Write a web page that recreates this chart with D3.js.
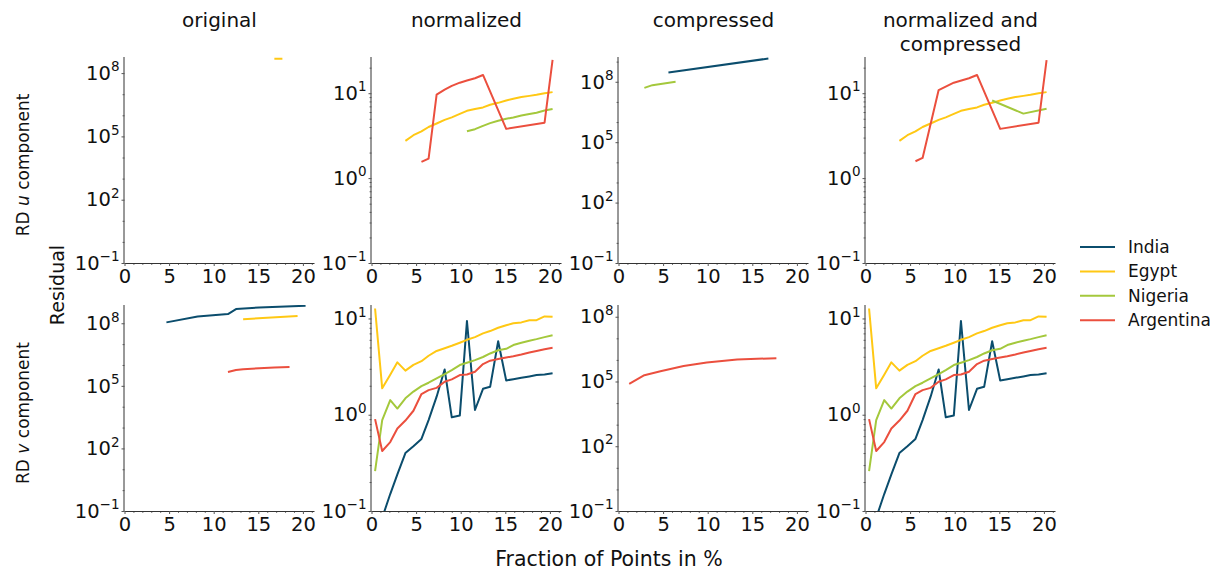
<!DOCTYPE html>
<html>
<head>
<meta charset="utf-8">
<script src="https://cdn.jsdelivr.net/npm/d3@7"></script>
<style>
  html, body { margin: 0; padding: 0; background: #fff; }
  svg { display: block; font-family: "DejaVu Sans", sans-serif; }
</style>
</head>
<body>
<svg id="chart" width="1210" height="571"></svg>
<script>
const N = null;
const countries = ["India", "Egypt", "Nigeria", "Argentina"];
const countryColors = ["#0b4d6d", "#ffc814", "#a4c83c", "#eb4f3e"];
const columnTitles = [["original"], ["normalized"], ["compressed"], ["normalized and", "compressed"]];
const xTicks = [0, 5, 10, 15, 20];
const wideTicks = [0.1, 1e2, 1e5, 1e8];
const narrowTicks = [0.1, 1, 10];

// fraction of points (%) at which each residual was evaluated
const fractionGrid = [0.4, 1.2, 2.1, 2.9, 3.8, 4.7, 5.6, 6.4, 7.3, 8.2, 9.0, 9.9,
                      10.7, 11.6, 12.5, 13.3, 14.2, 15.1, 15.9, 16.8, 17.7, 18.5, 19.4, 20.3];

// RD u component
const uOriginalEgypt = [N,N,N,N,N,N,N,N,N,N,N,N,N,N,N,N,N,N,N,4.8e8,4.8e8,N,N,N];
const uNormalizedEgypt = [N,N,N,N,2.75,3.2,3.55,4.0,4.4,4.85,5.2,5.7,6.2,6.5,6.8,7.3,7.7,8.2,8.6,9.0,9.3,9.6,10.0,10.3];
const uNormalizedNigeria = [N,N,N,N,N,N,N,N,N,N,N,N,3.57,3.77,4.13,4.44,4.73,5.0,5.18,5.46,5.7,5.9,6.25,6.5];
const uNormalizedArgentina = [N,N,N,N,N,N,1.55,1.7,9.6,11.0,12.2,13.3,14.1,15.0,16.4,N,N,3.8,N,N,N,N,4.5,24.7];
const uCompressedIndia = [N,N,N,N,N,N,2.9e8,N,N,N,N,N,N,N,N,N,N,N,N,1.43e9,N,N,N,N];
const uCompressedNigeria = [N,N,N,5.0e7,6.8e7,N,N,1.0e8,N,N,N,N,N,N,N,N,N,N,N,N,N,N,N,N];
const uNormCompEgypt = [N,N,N,N,2.75,3.2,3.55,4.0,4.4,4.85,5.2,5.7,6.2,6.5,6.8,7.3,7.7,8.2,8.6,9.0,9.3,9.6,10.0,10.3];
const uNormCompNigeria = [N,N,N,N,N,N,N,N,N,N,N,N,N,N,N,N,8.2,N,N,N,5.75,N,N,6.56];
const uNormCompArgentina = [N,N,N,N,N,N,1.58,1.73,N,10.9,N,13.3,N,15.0,16.4,N,N,3.8,N,N,N,N,4.5,24.5];

// RD v component
const vOriginalIndia = [N,N,N,N,N,1.1e8,N,N,N,2.1e8,N,N,N,2.75e8,4.8e8,N,N,5.75e8,N,N,N,N,N,6.9e8];
const vOriginalEgypt = [N,N,N,N,N,N,N,N,N,N,N,N,N,N,N,1.55e8,N,N,N,N,N,N,2.24e8,N];
const vOriginalArgentina = [N,N,N,N,N,N,N,N,N,N,N,N,N,4.6e5,5.7e5,6.3e5,N,7.0e5,N,7.5e5,N,7.9e5,N,N];
const vNormalizedIndia = [N,0.085,0.15,0.24,0.40,0.47,0.56,0.88,1.54,2.95,0.94,0.98,9.4,1.12,1.86,1.95,5.8,2.27,2.34,2.42,2.5,2.58,2.62,2.7];
const vNormalizedEgypt = [12.7,1.88,2.6,3.5,2.87,3.3,3.6,4.1,4.6,4.9,5.2,5.6,6.0,6.4,7.0,7.4,8.0,8.5,8.9,9.1,9.6,9.6,10.5,10.4];
const vNormalizedNigeria = [0.26,0.88,1.42,1.16,1.48,1.74,1.98,2.15,2.38,2.64,2.91,3.28,3.47,3.69,3.98,4.33,4.68,4.84,5.3,5.6,5.87,6.1,6.4,6.7];
const vNormalizedArgentina = [0.9,0.42,0.52,0.72,0.87,1.1,1.64,1.8,1.9,2.2,2.33,2.58,2.62,2.8,3.36,3.64,3.8,3.93,4.06,4.23,4.43,4.6,4.8,4.96];
const vCompressedArgentina = [N,7.8e4,N,1.95e5,N,3.0e5,N,N,5.2e5,N,N,7.6e5,N,N,N,1.05e6,N,N,N,N,1.2e6,N,N,N];
const vNormCompIndia = vNormalizedIndia;
const vNormCompEgypt = vNormalizedEgypt;
const vNormCompNigeria = vNormalizedNigeria;
const vNormCompArgentina = vNormalizedArgentina;

// panel y-axis upper limits
const yTops = [[5.8e8, 26.7, 1.7e9, 26.7], [7.5e8, 13.8, 3.5e8, 13.8]];

const panels = [
  {row:0, col:0, ticks:wideTicks,   series:{Egypt:uOriginalEgypt}},
  {row:0, col:1, ticks:narrowTicks, series:{Egypt:uNormalizedEgypt, Nigeria:uNormalizedNigeria, Argentina:uNormalizedArgentina}},
  {row:0, col:2, ticks:wideTicks,   series:{India:uCompressedIndia, Nigeria:uCompressedNigeria}},
  {row:0, col:3, ticks:narrowTicks, series:{Egypt:uNormCompEgypt, Nigeria:uNormCompNigeria, Argentina:uNormCompArgentina}},
  {row:1, col:0, ticks:wideTicks,   series:{India:vOriginalIndia, Egypt:vOriginalEgypt, Argentina:vOriginalArgentina}},
  {row:1, col:1, ticks:narrowTicks, series:{India:vNormalizedIndia, Egypt:vNormalizedEgypt, Nigeria:vNormalizedNigeria, Argentina:vNormalizedArgentina}},
  {row:1, col:2, ticks:wideTicks,   series:{Argentina:vCompressedArgentina}},
  {row:1, col:3, ticks:narrowTicks, series:{India:vNormCompIndia, Egypt:vNormCompEgypt, Nigeria:vNormCompNigeria, Argentina:vNormCompArgentina}}
];

// ---- layout ----
const svg = d3.select("#chart");
const colLeft = [124.5, 371.5, 618.5, 865.5];
const rowTop = [57, 305];
const pw = 190, ph = 206;
const xMax = 21.3;
const axisColor = "#333";
const tickFont = 19.5;
const color = d3.scaleOrdinal().domain(countries).range(countryColors);
const defs = svg.append("defs");

const superscripts = {"-1": "\u22121", "0": "0", "1": "1", "2": "2", "5": "5", "8": "8"};

panels.forEach((p, i) => {
  const left = colLeft[p.col], top = rowTop[p.row];
  const x = d3.scaleLinear().domain([0, xMax]).range([left, left + pw]);
  const y = d3.scaleLog().domain([0.1, yTops[p.row][p.col]]).range([top + ph, top]);
  const g = svg.append("g");

  defs.append("clipPath").attr("id", "clip" + i)
    .append("rect").attr("x", left).attr("y", top).attr("width", pw).attr("height", ph);

  // minor ticks x
  const xMinor = d3.range(1, 22).filter(v => v % 5 !== 0 && v <= xMax);
  g.append("g").attr("transform", `translate(0,${top + ph})`)
    .call(d3.axisBottom(x).tickValues(xMinor).tickSize(2).tickFormat(""))
    .call(a => a.select(".domain").remove())
    .call(a => a.selectAll("line").attr("stroke", "#555").attr("stroke-width", 0.8));

  // minor ticks y
  const [lo, hi] = y.domain();
  let yMinor = [];
  if (p.ticks === narrowTicks) {
    for (let e = -1; e <= 2; e++) for (let m = 2; m <= 9; m++) { const v = m * Math.pow(10, e); if (v > lo && v < hi) yMinor.push(v); }
  } else {
    for (let e = -1; e <= 9; e++) { const v = Math.pow(10, e); if (v > lo && v < hi && !p.ticks.includes(v)) yMinor.push(v); }
  }
  g.append("g").attr("transform", `translate(${left},0)`)
    .call(d3.axisLeft(y).tickValues(yMinor).tickSize(2).tickFormat(""))
    .call(a => a.select(".domain").remove())
    .call(a => a.selectAll("line").attr("stroke", "#555").attr("stroke-width", 0.8));

  // major x axis
  g.append("g").attr("transform", `translate(0,${top + ph})`)
    .call(d3.axisBottom(x).tickValues(xTicks).tickSize(3).tickPadding(3).tickFormat(d3.format("d")))
    .call(a => a.select(".domain").attr("stroke", axisColor).attr("d", `M${left},0.5H${left + pw}`))
    .call(a => a.selectAll("line").attr("stroke", "#555"))
    .call(a => a.selectAll("text").attr("font-size", tickFont).attr("fill", "#111").attr("font-family", "DejaVu Sans"));

  // major y axis
  g.append("g").attr("transform", `translate(${left},0)`)
    .call(d3.axisLeft(y).tickValues(p.ticks).tickSize(3).tickPadding(2).tickFormat(""))
    .call(a => a.select(".domain").attr("stroke", axisColor).attr("d", `M-0.5,${top}V${top + ph}`))
    .call(a => a.selectAll("line").attr("stroke", "#555"))
    .call(a => a.selectAll(".tick text").each(function(d) {
      const t = d3.select(this);
      const exp = String(Math.round(Math.log10(d)));
      t.text(null).attr("font-size", tickFont).attr("fill", "#111").attr("font-family", "DejaVu Sans");
      t.append("tspan").text("10");
      t.append("tspan").attr("dy", -8.5).attr("font-size", 13.5).text(superscripts[exp]);
    }));

  // lines
  const line = d3.line().x(d => x(d[0])).y(d => y(d[1]));
  const lg = g.append("g").attr("clip-path", `url(#clip${i})`);
  countries.forEach(c => {
    const vals = p.series[c];
    if (!vals) return;
    const pts = fractionGrid.map((fx, k) => [fx, vals[k]]).filter(d => d[1] != null);
    lg.append("path").datum(pts)
      .attr("d", line)
      .attr("fill", "none")
      .attr("stroke", color(c))
      .attr("stroke-width", 2)
      .attr("stroke-linejoin", "round");
  });
});

// column titles
columnTitles.forEach((lines, c) => {
  const cx = colLeft[c] + pw / 2;
  lines.forEach((t, j) => {
    svg.append("text").attr("x", cx).attr("y", 27 + j * 24)
      .attr("text-anchor", "middle").attr("font-size", 20).attr("fill", "#111").text(t);
  });
});

// row labels
const rowLabelParts = [["RD ", "u", " component"], ["RD ", "v", " component"]];
rowLabelParts.forEach((parts, r) => {
  const cy = rowTop[r] + ph / 2 + 5;
  const t = svg.append("text")
    .attr("transform", `translate(23,${cy}) rotate(-90)`)
    .attr("text-anchor", "middle").attr("dy", "0.35em")
    .attr("font-size", 17).attr("fill", "#111");
  parts.forEach((s, j) => {
    const ts = t.append("tspan").text(s);
    if (j === 1) ts.attr("font-style", "italic");
  });
});

svg.append("text")
  .attr("transform", "translate(57,285) rotate(-90)")
  .attr("text-anchor", "middle").attr("dy", "0.35em")
  .attr("font-size", 19).attr("fill", "#111").text("Residual");

svg.append("text")
  .attr("x", 609).attr("y", 566)
  .attr("text-anchor", "middle").attr("font-size", 20.5).attr("fill", "#111")
  .text("Fraction of Points in %");

// legend
const legend = svg.append("g");
countries.forEach((c, k) => {
  const ly = 247 + k * 24.4;
  legend.append("line").attr("x1", 1080).attr("x2", 1115).attr("y1", ly).attr("y2", ly)
    .attr("stroke", color(c)).attr("stroke-width", 2);
  legend.append("text").attr("x", 1128).attr("y", ly).attr("dy", "0.35em")
    .attr("font-size", 17).attr("fill", "#111").text(c);
});
</script>
</body>
</html>
